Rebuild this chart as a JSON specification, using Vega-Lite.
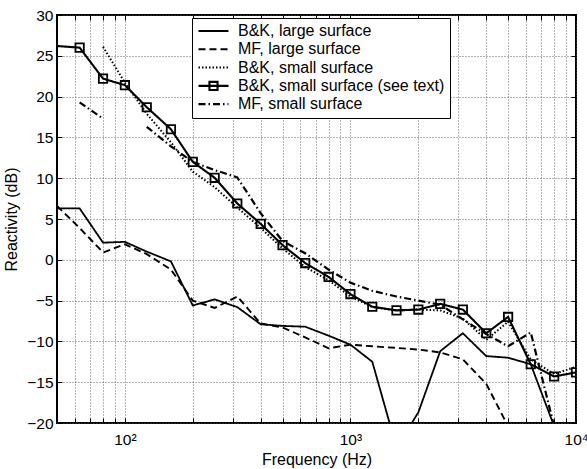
{
  "$schema": "https://vega.github.io/schema/vega-lite/v6.json",
  "width": 519,
  "height": 408,
  "autosize": {"type": "none"},
  "padding": {"left": 57, "top": 15, "right": 11, "bottom": 46},
  "background": "white",
  "config": {
    "font": "Liberation Sans",
    "view": {"stroke": "black", "strokeWidth": 2},
    "axis": {
      "labelFont": "Liberation Sans",
      "labelFontSize": 15.5,
      "labelColor": "black",
      "titleFont": "Liberation Sans",
      "titleFontSize": 16,
      "titleFontWeight": "normal",
      "titleColor": "black",
      "domain": false,
      "tickColor": "black",
      "tickSize": -5,
      "tickWidth": 1,
      "gridColor": "#555",
      "gridDash": [1, 2],
      "gridWidth": 0.9,
      "gridOpacity": 1
    }
  },
  "data": {
    "values": [
      {"s": "B&K, large surface", "f": 50, "v": 6.3},
      {"s": "B&K, large surface", "f": 63, "v": 6.3},
      {"s": "B&K, large surface", "f": 80, "v": 2.1},
      {"s": "B&K, large surface", "f": 100, "v": 2.2},
      {"s": "B&K, large surface", "f": 125, "v": 1.0},
      {"s": "B&K, large surface", "f": 160, "v": -0.2},
      {"s": "B&K, large surface", "f": 200, "v": -5.6},
      {"s": "B&K, large surface", "f": 250, "v": -4.85},
      {"s": "B&K, large surface", "f": 315, "v": -5.8},
      {"s": "B&K, large surface", "f": 400, "v": -7.9},
      {"s": "B&K, large surface", "f": 500, "v": -8.1},
      {"s": "B&K, large surface", "f": 630, "v": -8.2},
      {"s": "B&K, large surface", "f": 800, "v": -9.3},
      {"s": "B&K, large surface", "f": 1000, "v": -10.4},
      {"s": "B&K, large surface", "f": 1250, "v": -12.5},
      {"s": "B&K, large surface", "f": 1600, "v": -23},
      {"s": "B&K, large surface", "f": 2000, "v": -18.7},
      {"s": "B&K, large surface", "f": 2500, "v": -11.2},
      {"s": "B&K, large surface", "f": 3150, "v": -9.0},
      {"s": "B&K, large surface", "f": 4000, "v": -11.8},
      {"s": "B&K, large surface", "f": 5000, "v": -12.0},
      {"s": "B&K, large surface", "f": 6300, "v": -12.8},
      {"s": "B&K, large surface", "f": 8000, "v": -20.4},

      {"s": "MF, large surface", "f": 50, "v": 6.6},
      {"s": "MF, large surface", "f": 63, "v": 3.9},
      {"s": "MF, large surface", "f": 80, "v": 0.9},
      {"s": "MF, large surface", "f": 100, "v": 1.9},
      {"s": "MF, large surface", "f": 125, "v": 0.7},
      {"s": "MF, large surface", "f": 160, "v": -1.2},
      {"s": "MF, large surface", "f": 200, "v": -5.0},
      {"s": "MF, large surface", "f": 250, "v": -5.9},
      {"s": "MF, large surface", "f": 315, "v": -4.5},
      {"s": "MF, large surface", "f": 400, "v": -7.8},
      {"s": "MF, large surface", "f": 500, "v": -8.3},
      {"s": "MF, large surface", "f": 630, "v": -9.5},
      {"s": "MF, large surface", "f": 800, "v": -10.85},
      {"s": "MF, large surface", "f": 1000, "v": -10.4},
      {"s": "MF, large surface", "f": 1250, "v": -10.6},
      {"s": "MF, large surface", "f": 1600, "v": -10.8},
      {"s": "MF, large surface", "f": 2000, "v": -11.0},
      {"s": "MF, large surface", "f": 2500, "v": -11.35},
      {"s": "MF, large surface", "f": 3150, "v": -12.2},
      {"s": "MF, large surface", "f": 4000, "v": -15.2},
      {"s": "MF, large surface", "f": 5000, "v": -20.4},

      {"s": "B&K, small surface", "f": 80, "v": 26.1},
      {"s": "B&K, small surface", "f": 100, "v": 21.7},
      {"s": "B&K, small surface", "f": 125, "v": 17.9},
      {"s": "B&K, small surface", "f": 160, "v": 14.4},
      {"s": "B&K, small surface", "f": 200, "v": 10.8},
      {"s": "B&K, small surface", "f": 250, "v": 8.9},
      {"s": "B&K, small surface", "f": 315, "v": 6.4},
      {"s": "B&K, small surface", "f": 400, "v": 3.9},
      {"s": "B&K, small surface", "f": 500, "v": 1.4},
      {"s": "B&K, small surface", "f": 630, "v": -0.9},
      {"s": "B&K, small surface", "f": 800, "v": -2.5},
      {"s": "B&K, small surface", "f": 1000, "v": -4.5},
      {"s": "B&K, small surface", "f": 1250, "v": -5.8},
      {"s": "B&K, small surface", "f": 1600, "v": -6.2},
      {"s": "B&K, small surface", "f": 2000, "v": -6.1},
      {"s": "B&K, small surface", "f": 2500, "v": -6.2},
      {"s": "B&K, small surface", "f": 3150, "v": -7.2},
      {"s": "B&K, small surface", "f": 4000, "v": -9.8},
      {"s": "B&K, small surface", "f": 5000, "v": -7.6},
      {"s": "B&K, small surface", "f": 6300, "v": -12.2},
      {"s": "B&K, small surface", "f": 8000, "v": -14.0},
      {"s": "B&K, small surface", "f": 10000, "v": -13.1},

      {"s": "B&K, small surface (see text)", "f": 50, "v": 26.2},
      {"s": "B&K, small surface (see text)", "f": 63, "v": 26.0},
      {"s": "B&K, small surface (see text)", "f": 80, "v": 22.2},
      {"s": "B&K, small surface (see text)", "f": 100, "v": 21.4},
      {"s": "B&K, small surface (see text)", "f": 125, "v": 18.7},
      {"s": "B&K, small surface (see text)", "f": 160, "v": 16.0},
      {"s": "B&K, small surface (see text)", "f": 200, "v": 12.0},
      {"s": "B&K, small surface (see text)", "f": 250, "v": 10.05},
      {"s": "B&K, small surface (see text)", "f": 315, "v": 6.9},
      {"s": "B&K, small surface (see text)", "f": 400, "v": 4.4},
      {"s": "B&K, small surface (see text)", "f": 500, "v": 1.8},
      {"s": "B&K, small surface (see text)", "f": 630, "v": -0.4},
      {"s": "B&K, small surface (see text)", "f": 800, "v": -2.1},
      {"s": "B&K, small surface (see text)", "f": 1000, "v": -4.2},
      {"s": "B&K, small surface (see text)", "f": 1250, "v": -5.75},
      {"s": "B&K, small surface (see text)", "f": 1600, "v": -6.2},
      {"s": "B&K, small surface (see text)", "f": 2000, "v": -6.1},
      {"s": "B&K, small surface (see text)", "f": 2500, "v": -5.4},
      {"s": "B&K, small surface (see text)", "f": 3150, "v": -6.1},
      {"s": "B&K, small surface (see text)", "f": 4000, "v": -9.0},
      {"s": "B&K, small surface (see text)", "f": 5000, "v": -7.0},
      {"s": "B&K, small surface (see text)", "f": 6300, "v": -12.8},
      {"s": "B&K, small surface (see text)", "f": 8000, "v": -14.3},
      {"s": "B&K, small surface (see text)", "f": 10000, "v": -13.8},

      {"s": "MF, small surface", "f": 63, "v": 19.3},
      {"s": "MF, small surface", "f": 80, "v": 17.3},
      {"s": "MF, small surface", "f": 100, "v": null},
      {"s": "MF, small surface", "f": 125, "v": 16.3},
      {"s": "MF, small surface", "f": 160, "v": 13.9},
      {"s": "MF, small surface", "f": 200, "v": 12.0},
      {"s": "MF, small surface", "f": 250, "v": 11.0},
      {"s": "MF, small surface", "f": 315, "v": 10.1},
      {"s": "MF, small surface", "f": 400, "v": 5.7},
      {"s": "MF, small surface", "f": 500, "v": 2.3},
      {"s": "MF, small surface", "f": 630, "v": 0.8},
      {"s": "MF, small surface", "f": 800, "v": -1.2},
      {"s": "MF, small surface", "f": 1000, "v": -2.8},
      {"s": "MF, small surface", "f": 1250, "v": -3.8},
      {"s": "MF, small surface", "f": 1600, "v": -4.5},
      {"s": "MF, small surface", "f": 2000, "v": -5.0},
      {"s": "MF, small surface", "f": 2500, "v": -5.5},
      {"s": "MF, small surface", "f": 3150, "v": -7.3},
      {"s": "MF, small surface", "f": 4000, "v": -9.1},
      {"s": "MF, small surface", "f": 5000, "v": -10.6},
      {"s": "MF, small surface", "f": 6300, "v": -8.9},
      {"s": "MF, small surface", "f": 8000, "v": -20.4}
    ]
  },
  "resolve": {"axis": {"x": "independent", "y": "independent"}},
  "layer": [
    {
      "mark": {"type": "line", "clip": true, "color": "black", "invalid": "break-paths-show-domains"},
      "encoding": {
        "x": {
          "field": "f", "type": "quantitative",
          "scale": {"type": "log", "domain": [50, 10000], "nice": false},
          "axis": {
            "orient": "bottom",
            "title": "Frequency (Hz)",
            "values": [60, 70, 80, 90, 100, 200, 300, 400, 500, 600, 700, 800, 900, 1000, 2000, 3000, 4000, 5000, 6000, 7000, 8000, 9000, 10000],
            "labelExpr": "datum.value == 100 ? '10²' : datum.value == 1000 ? '10³' : datum.value == 10000 ? '10⁴' : ''",
            "labelFlush": false,
            "labelOverlap": false,
            "labelPadding": 14,
            "grid": true,
            "titlePadding": 4
          }
        },
        "y": {
          "field": "v", "type": "quantitative",
          "scale": {"domain": [-20, 30], "nice": false, "zero": false},
          "axis": {
            "orient": "left",
            "title": "Reactivity (dB)",
            "values": [-20, -15, -10, -5, 0, 5, 10, 15, 20, 25, 30],
            "labelPadding": 9,
            "grid": true,
            "titlePadding": 7
          }
        },
        "strokeDash": {
          "field": "s", "type": "nominal",
          "scale": {
            "domain": ["B&K, large surface", "MF, large surface", "B&K, small surface", "B&K, small surface (see text)", "MF, small surface"],
            "range": [[1, 0], [7, 4], [1.5, 2], [1, 0], [7, 3, 1.5, 3]]
          },
          "legend": {
            "orient": "none",
            "legendX": 135,
            "legendY": 3,
            "title": null,
            "fillColor": "white",
            "strokeColor": "black",
            "padding": 5,
            "labelFont": "Liberation Sans",
            "labelFontSize": 16,
            "labelColor": "black",
            "labelLimit": 400,
            "labelOffset": 8,
            "rowPadding": 2.3,
            "clipHeight": 16,
            "symbolSize": 900,
            "symbolStrokeColor": "black",
            "symbolType": {"expr": "datum.value == 'B&K, small surface (see text)' ? 'M-1,0H1M-0.27,-0.27H0.27V0.27H-0.27Z' : 'M-1,0H1'"}
          }
        },
        "strokeWidth": {
          "field": "s", "type": "nominal",
          "scale": {
            "domain": ["B&K, large surface", "MF, large surface", "B&K, small surface", "B&K, small surface (see text)", "MF, small surface"],
            "range": [1.8, 2.2, 1.4, 1.8, 1.9]
          },
          "legend": null
        }
      }
    },
    {
      "transform": [
        {"filter": "datum.s == 'B&K, small surface (see text)' && datum.f > 50"}
      ],
      "mark": {"type": "point", "shape": "square", "filled": false, "color": "black", "opacity": 1, "strokeWidth": 1.8, "size": 70, "clip": true},
      "encoding": {
        "x": {
          "field": "f", "type": "quantitative",
          "scale": {"type": "log", "domain": [50, 10000], "nice": false},
          "axis": {
            "orient": "top",
            "title": null,
            "values": [60, 70, 80, 90, 100, 200, 300, 400, 500, 600, 700, 800, 900, 1000, 2000, 3000, 4000, 5000, 6000, 7000, 8000, 9000, 10000],
            "labels": false,
            "grid": false
          }
        },
        "y": {
          "field": "v", "type": "quantitative",
          "scale": {"domain": [-20, 30], "nice": false, "zero": false},
          "axis": {
            "orient": "right",
            "title": null,
            "values": [-20, -15, -10, -5, 0, 5, 10, 15, 20, 25, 30],
            "labels": false,
            "grid": false
          }
        }
      }
    }
  ]
}
